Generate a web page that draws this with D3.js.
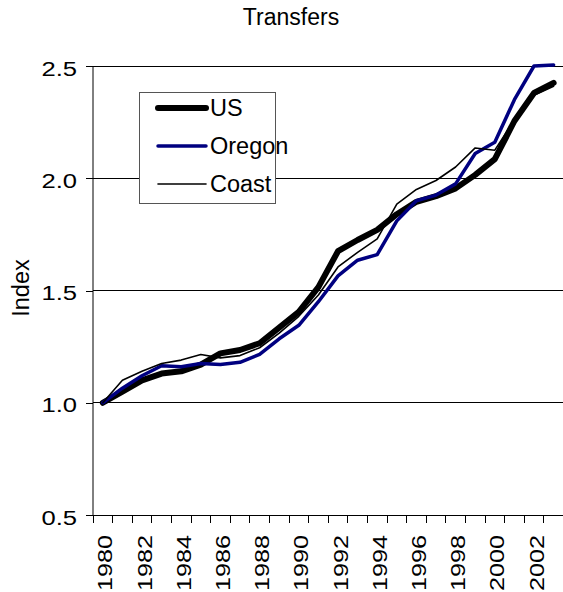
<!DOCTYPE html>
<html>
<head>
<meta charset="utf-8">
<script src="https://cdn.jsdelivr.net/npm/d3@7"></script>
<style>
  html, body { margin: 0; padding: 0; background: #fff; overflow: hidden; }
  svg { display: block; font-family: "Liberation Sans", Arial, sans-serif; }
</style>
</head>
<body>
<svg id="chart" width="563" height="592"></svg>
<script>
const years = d3.range(1980, 2004);
const usValues = [1.00, 1.05, 1.10, 1.13, 1.14, 1.17, 1.22, 1.235, 1.265, 1.335, 1.405, 1.515, 1.675, 1.725, 1.77, 1.84, 1.895, 1.92, 1.955, 2.015, 2.085, 2.255, 2.38, 2.425];
const oregonValues = [1.00, 1.065, 1.12, 1.165, 1.16, 1.175, 1.17, 1.18, 1.215, 1.285, 1.345, 1.45, 1.565, 1.635, 1.66, 1.81, 1.90, 1.925, 1.975, 2.11, 2.16, 2.35, 2.50, 2.505];
const coastValues = [1.00, 1.10, 1.14, 1.175, 1.19, 1.215, 1.20, 1.21, 1.245, 1.31, 1.385, 1.48, 1.605, 1.67, 1.73, 1.885, 1.95, 1.99, 2.05, 2.135, 2.125, 2.26, 2.37, 2.41];
const yTicks = [0.5, 1.0, 1.5, 2.0, 2.5];
const labelYears = years.filter(y => y % 2 === 0 && y <= 2002);
const seriesNames = ["US", "Oregon", "Coast"];

const svg = d3.select("#chart");
const mLeft = 93, mTop = 66, mBottom = 515, mRight = 563.4;

const x = d3.scaleBand().domain(years).range([mLeft, mRight]).padding(0);
const y = d3.scaleLinear().domain([0.5, 2.5]).range([mBottom, mTop]);

// gridlines
svg.append("g").selectAll("line").data(yTicks.filter(v => v > 0.5)).join("line")
  .attr("x1", mLeft).attr("x2", 563).attr("y1", d => y(d)).attr("y2", d => y(d))
  .attr("stroke", "#000").attr("stroke-width", 1).attr("shape-rendering", "crispEdges");

// y axis
const yAxis = svg.append("g").attr("transform", `translate(${mLeft},0)`)
  .call(d3.axisLeft(y).tickValues(yTicks).tickFormat("").tickSize(7));
yAxis.select(".domain").attr("stroke", "#000").attr("d", `M0,${mTop}V${mBottom}`);
yAxis.selectAll(".tick line").attr("stroke", "#000").attr("shape-rendering", "crispEdges");
svg.append("g").selectAll("text").data(yTicks).join("text")
  .attr("transform", d => `translate(77,${y(d) + 2}) scale(1.22,1)`)
  .attr("text-anchor", "end").attr("dy", "0.36em")
  .attr("font-size", 21).attr("fill", "#000")
  .text(d3.format(".1f"));

// x axis
const xAxis = svg.append("g").attr("transform", `translate(0,${mBottom})`);
xAxis.append("path").attr("stroke", "#000").attr("fill", "none").attr("d", `M${mLeft},0H563`)
  .attr("shape-rendering", "crispEdges");
xAxis.selectAll(".xt").data(years).join("line").attr("class", "xt")
  .attr("x1", d => x(d)).attr("x2", d => x(d)).attr("y1", 0).attr("y2", 8)
  .attr("stroke", "#000").attr("shape-rendering", "crispEdges");
xAxis.selectAll(".xl").data(labelYears).join("text").attr("class", "xl")
  .attr("transform", d => `translate(${x(d) + x.bandwidth() / 2 + 9.5},20) rotate(-90) scale(1.2,1)`)
  .attr("text-anchor", "end").attr("font-size", 21).attr("fill", "#000")
  .text(d => d);

// lines
const line = d3.line().x((d, i) => x(years[i]) + x.bandwidth() / 2).y(d => y(d));
const styles = [
  { vals: usValues, color: "#000", w: 6 },
  { vals: oregonValues, color: "#000080", w: 3.5 },
  { vals: coastValues, color: "#000", w: 1.6 }
];
svg.append("g").selectAll("path").data(styles).join("path")
  .attr("d", d => line(d.vals)).attr("fill", "none")
  .attr("stroke", d => d.color).attr("stroke-width", d => d.w)
  .attr("stroke-linejoin", "round").attr("stroke-linecap", "round");

// legend
const lg = svg.append("g");
lg.append("rect").attr("x", 139.5).attr("y", 92.5).attr("width", 136).attr("height", 111)
  .attr("fill", "#fff").attr("stroke", "#555").attr("stroke-width", 1);
const ly = [108, 146, 184];
lg.selectAll(".li").data(styles).join("line").attr("class", "li")
  .attr("x1", 158).attr("x2", 206).attr("y1", (d, i) => ly[i]).attr("y2", (d, i) => ly[i])
  .attr("stroke", d => d.color).attr("stroke-width", d => d.w).attr("stroke-linecap", "round");
lg.selectAll(".lt").data(seriesNames).join("text").attr("class", "lt")
  .attr("x", 210).attr("y", (d, i) => ly[i]).attr("dy", "0.36em")
  .attr("font-size", 23.5).attr("fill", "#000").text(d => d);

// title
svg.append("text").attr("x", 291).attr("y", 25).attr("text-anchor", "middle")
  .attr("font-size", 23).attr("fill", "#000").text("Transfers");

// y label
svg.append("text").attr("transform", "translate(28.5,288) rotate(-90)").attr("text-anchor", "middle")
  .attr("font-size", 23.5).attr("fill", "#000").text("Index");
</script>
</body>
</html>
